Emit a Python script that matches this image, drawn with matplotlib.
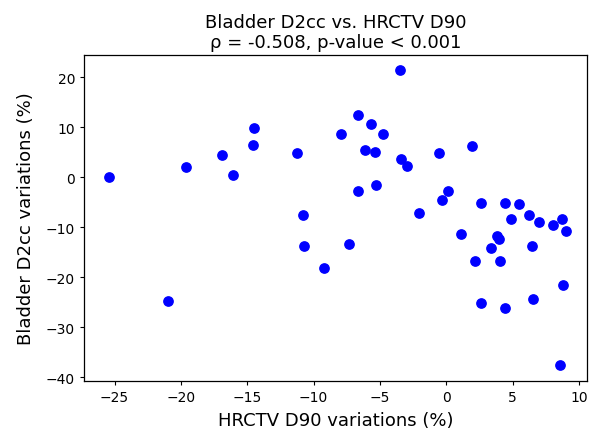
import matplotlib
matplotlib.use("Agg")
import matplotlib.pyplot as plt

hrctv_d90 = [-25.4, -21.0, -19.65, -16.93, -16.05, -14.6, -14.5, -11.28, -10.83, -10.72,
             -9.25, -7.9, -7.33, -6.66, -6.66, -6.13, -5.65, -5.4, -5.3, -4.75,
             -3.52, -3.41, -2.94, -2.03, -0.58, -0.33, 0.12, 1.13, 1.93, 2.13,
             2.61, 2.61, 3.39, 3.82, 3.97, 4.07, 4.4, 4.42, 4.85, 5.45,
             6.23, 6.43, 6.56, 7.0, 8.0, 8.72, 8.82, 9.0, 8.57]
bladder_d2cc = [0.0, -24.8, 2.1, 4.4, 0.5, 6.5, 9.8, 4.8, -7.45, -13.75,
                -18.2, 8.6, -13.4, 12.55, -2.7, 5.4, 10.75, 5.0, -1.5, 8.6,
                21.4, 3.6, 2.3, -7.1, 4.8, -4.5, -2.7, -11.3, 6.3, -16.7,
                -5.1, -25.1, -14.1, -11.8, -12.3, -16.7, -26.2, -5.1, -8.4, -5.3,
                -7.45, -13.75, -24.4, -9.0, -9.6, -8.4, -21.5, -10.75, -37.6]

title = "Bladder D2cc vs. HRCTV D90\nρ = -0.508, p-value < 0.001"
xlabel = "HRCTV D90 variations (%)"
ylabel = "Bladder D2cc variations (%)"

fig = plt.figure(figsize=(5.93, 4.35), dpi=100)
ax = fig.add_axes([0.1417, 0.1225, 0.8482, 0.7488])
ax.scatter(hrctv_d90, bladder_d2cc, color="blue", s=45)
ax.set_xlim(-27.3, 10.6)
ax.set_ylim(-40.7, 24.5)
ax.set_xticks([-25, -20, -15, -10, -5, 0, 5, 10])
ax.set_yticks([-40, -30, -20, -10, 0, 10, 20])
ax.tick_params(labelsize=10, length=3, pad=3.5)
for s in ax.spines.values():
    s.set_linewidth(0.9)
ax.set_title(title, fontsize=13, pad=5.5)
ax.set_xlabel(xlabel, fontsize=13, labelpad=5)
ax.set_ylabel(ylabel, fontsize=13, labelpad=8)
fig.savefig("out.png", dpi=100)
